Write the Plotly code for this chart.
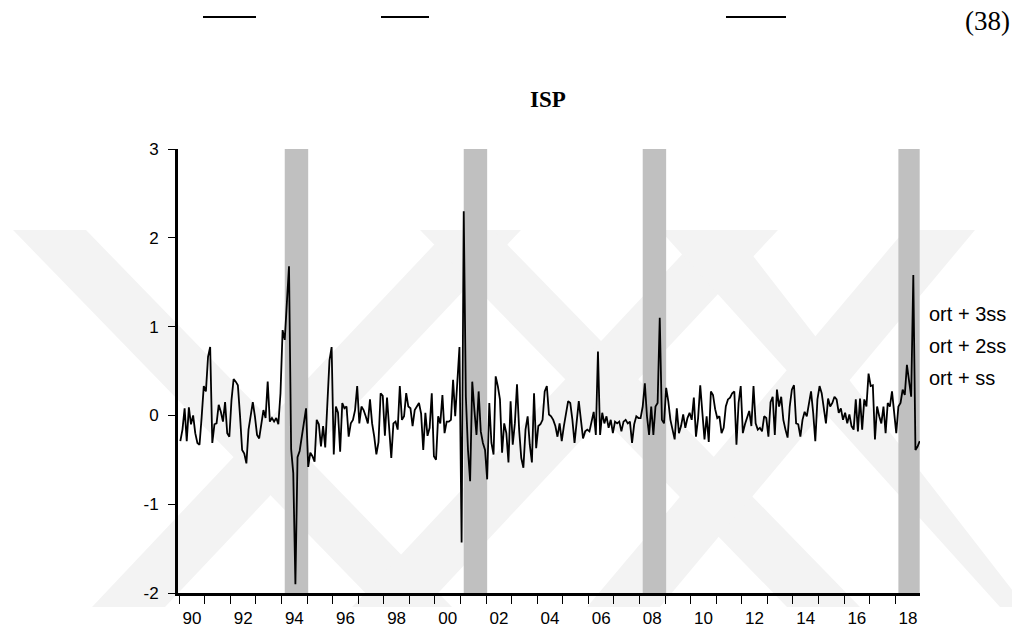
import numpy as np
import plotly.graph_objects as go

# ---------------- data ----------------
start_year = 1990
isp = [
    -0.29, -0.16, 0.08, -0.29, 0.09, -0.10, 0.00, -0.20, -0.31, -0.33, -0.02, 0.33,   # 1990
    0.27, 0.66, 0.77, -0.31, -0.10, -0.09, 0.12, 0.04, -0.07, 0.15, -0.20, -0.24,     # 1991
    0.17, 0.41, 0.38, 0.34, 0.00, -0.39, -0.43, -0.54, -0.16, -0.01, 0.15, -0.01,     # 1992
    -0.22, -0.26, -0.12, 0.06, -0.03, 0.38, -0.07, -0.03, -0.07, -0.03, -0.10, 0.25,  # 1993
    0.96, 0.85, 1.27, 1.68, -0.38, -0.65, -1.90, -0.47, -0.40, -0.22, -0.05, 0.08,    # 1994
    -0.58, -0.42, -0.46, -0.52, -0.05, -0.10, -0.35, -0.12, -0.36, 0.20, 0.62, 0.77,  # 1995
    -0.44, 0.10, 0.03, -0.41, 0.14, 0.08, 0.10, -0.24, -0.09, -0.05, 0.06, 0.33,      # 1996
    -0.09, 0.10, 0.06, -0.01, -0.09, 0.18, -0.09, -0.24, -0.44, -0.30, 0.25, 0.22,    # 1997
    -0.23, 0.20, -0.18, -0.48, -0.09, -0.07, -0.16, 0.33, -0.05, -0.01, 0.25, 0.10,   # 1998
    0.08, -0.12, 0.06, 0.10, 0.14, 0.02, -0.39, 0.03, -0.23, -0.14, 0.25, -0.46,      # 1999
    -0.50, -0.01, -0.09, 0.23, -0.20, -0.07, -0.07, -0.05, 0.40, -0.01, 0.45, 0.77,   # 2000
    -1.43, 2.30, 0.21, -0.39, -0.74, 0.38, 0.06, -0.22, 0.27, -0.18, -0.31, -0.39,    # 2001
    -0.72, 0.14, -0.31, -0.44, 0.44, 0.33, 0.18, -0.42, -0.09, -0.20, -0.53, 0.16,    # 2002
    -0.33, -0.09, 0.35, -0.16, -0.48, -0.59, -0.16, -0.01, -0.33, -0.53, 0.25, -0.37, # 2003
    -0.12, -0.10, -0.05, 0.27, 0.33, 0.01, -0.01, -0.05, -0.12, -0.24, -0.09, -0.29,  # 2004
    -0.12, 0.03, 0.16, 0.14, -0.05, -0.31, -0.09, 0.16, -0.05, -0.26, -0.18, -0.16,   # 2005
    -0.18, -0.05, 0.04, -0.22, 0.72, -0.22, 0.03, -0.09, -0.01, -0.14, -0.05, -0.20,  # 2006
    -0.07, -0.09, -0.07, -0.18, -0.07, -0.05, -0.09, -0.07, -0.31, -0.10, -0.01, -0.03, # 2007
    -0.03, 0.10, 0.36, -0.01, -0.22, 0.10, -0.22, 0.10, 0.14, 1.10, -0.05, -0.09,     # 2008
    0.31, 0.16, -0.05, -0.16, -0.27, 0.08, -0.20, -0.12, 0.01, -0.14, -0.03, 0.03,    # 2009
    -0.05, 0.20, -0.24, -0.03, 0.34, 0.03, -0.27, -0.01, -0.30, 0.27, 0.23, 0.07,     # 2010
    -0.03, -0.01, -0.20, -0.14, 0.10, 0.18, 0.20, 0.25, 0.27, -0.33, 0.14, 0.33,      # 2011
    -0.20, -0.10, -0.01, 0.05, -0.12, 0.33, -0.09, -0.16, -0.14, -0.18, -0.01, -0.03, # 2012
    -0.24, 0.15, 0.21, -0.22, 0.29, 0.10, 0.21, -0.05, -0.16, -0.25, 0.10, 0.29,      # 2013
    0.34, -0.09, -0.10, -0.24, -0.05, 0.04, -0.01, 0.14, 0.27, 0.03, -0.29, 0.18,     # 2014
    0.33, 0.25, 0.10, -0.09, 0.19, 0.10, 0.14, 0.21, 0.18, 0.03, 0.08, -0.05,         # 2015
    0.03, -0.09, 0.01, -0.12, -0.16, 0.18, -0.18, 0.19, -0.16, 0.18, 0.10, 0.47,      # 2016
    0.33, 0.34, -0.27, 0.10, -0.01, -0.09, 0.10, -0.20, 0.14, 0.10, 0.27, -0.01,      # 2017
    -0.20, 0.10, 0.14, 0.29, 0.23, 0.57, 0.40, 0.21, 1.58, -0.39, -0.35, -0.29,       # 2018
]

# crisis shading (first month, last month)
band_starts = [(1994, 2), (2001, 2), (2008, 2), (2018, 2)]
band_ends = [(1995, 1), (2002, 1), (2009, 1), (2018, 12)]

x_tick_years = list(range(1990, 2019, 2))
x_tick_labels = ["90", "92", "94", "96", "98", "00", "02", "04", "06", "08",
                 "10", "12", "14", "16", "18"]
y_tick_vals = [-2, -1, 0, 1, 2, 3]
y_tick_labels = ["-2", "-1", "0", "1", "2", "3"]

level_labels = ["ort + 3ss", "ort + 2ss", "ort + ss"]
title_text = "ISP"
eq_number = "(38)"

# ---------------- figure ----------------
OFF = 8                       # page body margin of the html page
W, H = 1020 - OFF, 633 - OFF
ML, MR, MT, MB = 178 - OFF, 100, 149 - OFF, 40
PW, PH = W - ML - MR, H - MT - MB


def px2paper(px, py):
    """screen pixel -> paper coordinates of the plot area"""
    return (px - OFF - ML) / PW, (H - MB - (py - OFF)) / PH


def month_pos(y, m):
    return y + (m - 0.5) / 12.0


t = start_year + (np.arange(len(isp)) + 0.5) / 12.0

fig = go.Figure()
shapes = []

# faint background watermark (decorative)
wm_color = "#f3f3f3"
wm_polys = [
    [(13, 230), (86, 230), (452, 607), (379, 607)],
    [(448, 230), (521, 230), (165, 607), (92, 607)],
    [(420, 230), (493, 230), (860, 607), (787, 607)],
    [(705, 230), (778, 230), (425, 607), (352, 607)],
    [(660, 230), (733, 230), (1020, 600), (1020, 607), (1000, 607)],
    [(905, 230), (975, 230), (660, 607), (587, 607)],
]
for poly in wm_polys:
    pts = [px2paper(px, py) for px, py in poly]
    path = "M " + " L ".join(f"{a:.5f},{b:.5f}" for a, b in pts) + " Z"
    shapes.append(dict(type="path", xref="paper", yref="paper", path=path,
                       fillcolor=wm_color, line=dict(width=0), layer="below"))

for (ys, ms), (ye, me) in zip(band_starts, band_ends):
    shapes.append(dict(type="rect", xref="x", yref="y",
                       x0=month_pos(ys, ms), x1=month_pos(ye, me), y0=-2, y1=3,
                       fillcolor="#c0c0c0", line=dict(width=0), layer="below"))

# fraction bars of the surrounding document equation
for x0, x1 in [(203, 256), (381, 429), (726, 786)]:
    a0, b0 = px2paper(x0, 17)
    a1, _ = px2paper(x1, 17)
    shapes.append(dict(type="line", xref="paper", yref="paper",
                       x0=a0, x1=a1, y0=b0, y1=b0,
                       line=dict(color="black", width=2)))

fig.add_trace(go.Scatter(x=t, y=isp, mode="lines",
                         line=dict(color="black", width=1.8),
                         hoverinfo="skip", showlegend=False))

annotations = []
for k, txt in enumerate(level_labels):
    ax, ay = px2paper(927, 314 + k * 32)
    annotations.append(dict(text=txt, xref="paper", yref="paper", x=ax, y=ay,
                            xanchor="left", yanchor="middle", showarrow=False,
                            font=dict(family="Liberation Sans", size=20, color="black")))
tx, ty = px2paper(548, 100)
annotations.append(dict(text=f"<b>{title_text}</b>", xref="paper", yref="paper",
                        x=tx, y=ty, xanchor="center", yanchor="middle", showarrow=False,
                        font=dict(family="Liberation Serif", size=23, color="black")))
ex, ey = px2paper(1012, 21)
annotations.append(dict(text=eq_number, xref="paper", yref="paper",
                        x=ex, y=ey, xanchor="right", yanchor="middle", showarrow=False,
                        font=dict(family="Liberation Serif", size=27, color="black")))

fig.update_layout(
    width=W, height=H,
    margin=dict(l=ML, r=MR, t=MT, b=MB, pad=0, autoexpand=False),
    paper_bgcolor="white", plot_bgcolor="rgba(0,0,0,0)",
    shapes=shapes, annotations=annotations,
    showlegend=False,
    xaxis=dict(
        range=[1989.95, 2018.97], showgrid=False, zeroline=False,
        showline=True, linecolor="black", linewidth=3, automargin=False,
        tickmode="array",
        tickvals=[y + 0.5 for y in x_tick_years], ticktext=x_tick_labels,
        ticks="outside", ticklen=8, tickcolor="rgba(0,0,0,0)",
        tickfont=dict(family="Liberation Sans", size=17, color="black"),
        minor=dict(tickmode="array", tickvals=list(range(1990, 2019)),
                   ticks="outside", ticklen=8, tickwidth=1, tickcolor="black",
                   showgrid=False),
    ),
    yaxis=dict(
        range=[-2, 3], showgrid=False, zeroline=False,
        showline=True, linecolor="black", linewidth=3, automargin=False,
        tickmode="array", tickvals=y_tick_vals, ticktext=y_tick_labels,
        ticks="outside", ticklen=7, tickwidth=1, tickcolor="black",
        ticklabelstandoff=6,
        tickfont=dict(family="Liberation Sans", size=17, color="black"),
    ),
)

fig.write_html("out.html")
